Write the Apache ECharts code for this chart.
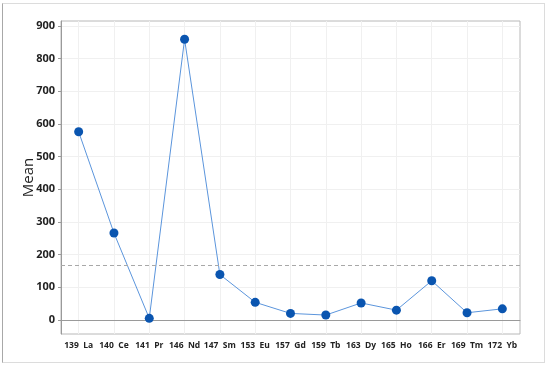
<!DOCTYPE html>
<html>
<head>
<meta charset="utf-8">
<script src="https://cdn.jsdelivr.net/npm/echarts@6/dist/echarts.min.js"></script>
<style>
  html, body { margin: 0; padding: 0; background: #fff; }
  #frame { position: absolute; left: 2px; top: 3px; width: 543px; height: 360px;
           border: 1px solid #dcdcdc; border-left-color: #a8a8a8; box-sizing: border-box; }
  #chart { position: absolute; left: 0; top: 0; width: 550px; height: 368px; }
</style>
</head>
<body>
<div id="frame"></div>
<div id="chart"></div>
<script>
const categories = ['139  La', '140  Ce', '141  Pr', '146  Nd', '147  Sm', '153  Eu', '157  Gd',
  '159  Tb', '163  Dy', '165  Ho', '166  Er', '169  Tm', '172  Yb']
const meanValues = [576, 266, 5, 859, 139, 54, 20, 15, 52, 30, 120, 22, 34]
const yTicks = [0, 100, 200, 300, 400, 500, 600, 700, 800, 900]

const chart = echarts.init(document.getElementById('chart'))

chart.setOption({
  animation: false,
  grid: { left: 61, top: 21, right: 30, bottom: 34 },
  xAxis: {
    type: 'category',
    data: categories,
    boundaryGap: true,
    axisLine: { show: true, lineStyle: { color: '#9a9a9a' } },
    axisTick: { alignWithLabel: true, interval: 0, length: 3, lineStyle: { color: '#9a9a9a' } },
    axisLabel: {
      interval: 0,
      color: '#222', fontSize: 8.5, fontWeight: 'bold', fontFamily: 'Open Sans', margin: 7
    },
    splitLine: { show: true, interval: 0, alignWithLabel: true, lineStyle: { color: '#f0f0f0' } }
  },
  yAxis: {
    type: 'value',
    min: -43,
    max: 915,
    name: 'Mean',
    nameLocation: 'middle',
    nameGap: 25,
    nameMoveOverlap: false,
    nameTextStyle: { color: '#222', fontSize: 15, fontFamily: 'Open Sans' },
    axisLine: { show: true, lineStyle: { color: '#9a9a9a' } },
    axisTick: { show: true, length: 3, customValues: yTicks, lineStyle: { color: '#9a9a9a' } },
    axisLabel: {
      customValues: yTicks,
      color: '#222', fontSize: 11, fontWeight: 'bold', fontFamily: 'Open Sans', margin: 6
    },
    splitLine: { show: true, lineStyle: { color: '#f0f0f0' } }
  },
  graphic: [{
    type: 'rect',
    shape: { x: 61, y: 21, width: 459, height: 313 },
    style: { fill: 'none', stroke: '#b8b8b8', lineWidth: 1 },
    silent: true, z: -1
  }],
  series: [{
    type: 'line',
    data: meanValues,
    symbol: 'circle',
    symbolSize: 9,
    itemStyle: { color: '#0a55b0' },
    lineStyle: { color: '#5b95dc', width: 1 },
    markLine: {
      silent: true,
      symbol: 'none',
      label: { show: false },
      lineStyle: { color: '#a8a8a8', type: [4, 3], width: 1 },
      data: [{ type: 'average' }]
    }
  }]
})
</script>
</body>
</html>
